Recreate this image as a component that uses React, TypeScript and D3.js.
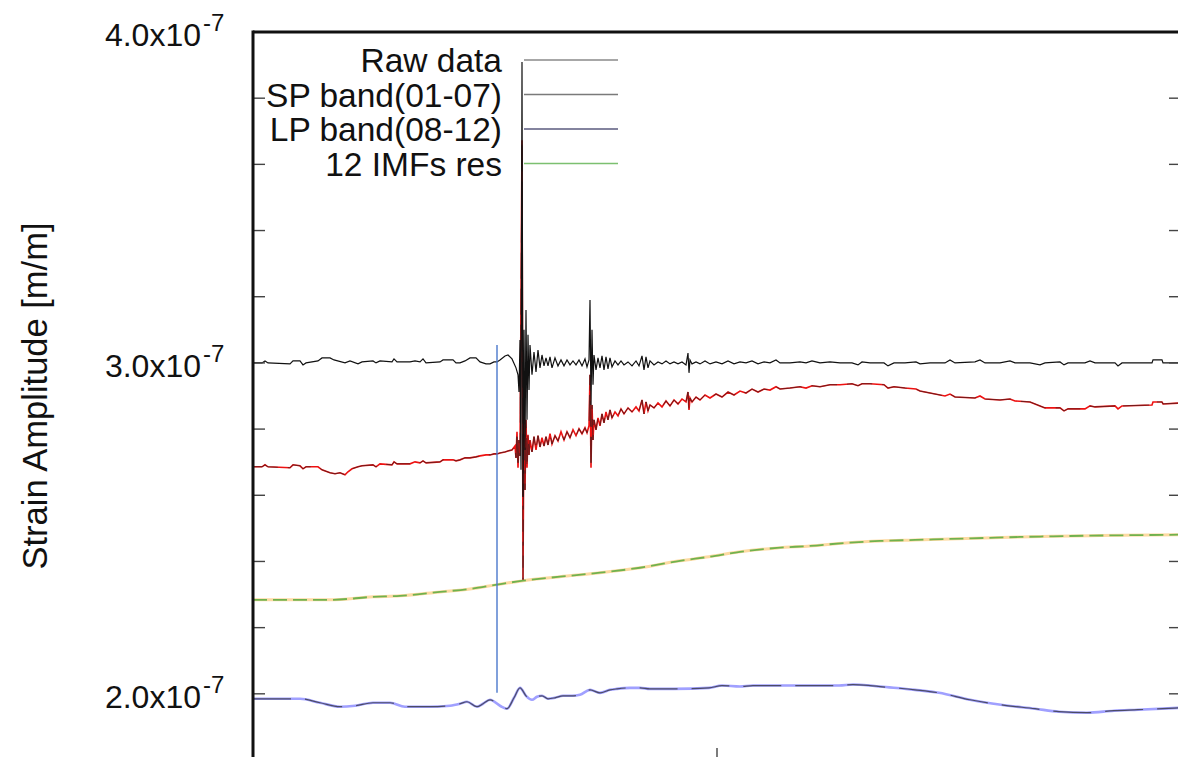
import React from "react";
import * as d3 from "d3";

// time axis (arbitrary sample units) and strain values in units of 1e-7 m/m
const yTickValues = [1.8, 2.0, 2.2, 2.4, 2.6, 2.8, 3.0, 3.2, 3.4, 3.6, 3.8, 4.0];
const yLabelValues = [2.0, 3.0, 4.0];
const xTickValues = [0, 464, 928];
const seriesNames = ["Raw data", "SP band(01-07)", "LP band(08-12)", "12 IMFs res"];
const eventTime = 244;
const eventRange = [2.003, 3.054];

const spBand: [number, number][] = [
  [0,3.000],[9,3.000],[12,3.006],[15,3.000],[37,2.997],[40,3.006],[47,3.006],[50,2.994],[53,3.000],[65,3.006],[69,3.015],[77,3.015],[81,3.009],[92,3.000],[97,3.006],[105,2.997],[109,3.003],[120,3.006],[123,3.000],[127,3.006],[139,3.003],[141,3.012],[144,3.003],[157,3.003],[162,3.006],[167,3.003],[170,3.012],[173,3.000],[187,3.003],[190,3.009],[200,3.009],[203,3.000],[207,3.000],[212,3.006],[217,3.015],[223,3.015],[227,3.003],[233,2.997],[237,2.997],[241,3.003],[244,3.003],[247,3.009],[252,3.021],[255,3.024],[259,3.012],[263,2.985],[265,2.964],[266,2.912],[267,3.069],[268,2.677],[269,3.909],[270,2.595],[271,3.100],[272,2.737],[273,3.160],[274,2.828],[275,3.085],[276,2.918],[277,3.054],[279,2.964],[281,3.033],[283,2.973],[285,3.039],[287,2.985],[289,3.024],[291,2.991],[293,3.015],[295,2.991],[297,3.018],[299,2.985],[302,3.015],[305,2.991],[308,3.009],[311,2.991],[314,3.009],[317,2.994],[320,3.006],[323,2.994],[326,3.009],[329,2.991],[332,3.012],[334,2.988],[336,3.009],[337,3.190],[338,2.873],[339,3.100],[340,2.934],[341,3.024],[343,2.979],[345,3.015],[347,2.985],[349,3.021],[351,2.979],[353,3.018],[355,2.982],[357,3.015],[359,2.988],[362,3.006],[365,2.994],[368,3.006],[371,2.994],[375,3.003],[379,2.991],[383,3.006],[386,2.991],[389,3.021],[391,2.979],[393,3.018],[395,2.985],[397,3.006],[401,2.994],[405,3.003],[409,2.997],[413,3.006],[417,2.997],[421,3.003],[425,2.997],[429,3.003],[433,2.994],[435,3.030],[436,2.970],[437,3.009],[439,2.997],[443,3.003],[447,2.997],[452,3.006],[457,2.997],[463,3.003],[469,2.997],[475,3.006],[481,2.997],[487,3.003],[493,3.000],[499,3.006],[505,2.997],[511,3.003],[517,3.000],[523,3.009],[527,3.000],[537,3.000],[547,3.003],[553,3.000],[559,3.006],[567,3.000],[577,3.003],[587,3.000],[599,3.000],[605,2.994],[609,3.003],[617,3.000],[631,3.000],[635,2.991],[641,3.000],[652,3.000],[663,3.003],[667,2.997],[677,3.000],[692,3.000],[697,3.009],[702,3.000],[722,3.003],[727,3.009],[732,3.000],[747,3.000],[757,3.006],[762,3.000],[777,3.000],[787,2.994],[792,3.000],[807,3.003],[811,2.994],[815,3.000],[832,3.000],[837,3.006],[842,3.000],[862,3.000],[865,2.991],[869,3.000],[899,3.000],[900,3.009],[909,3.009],[910,3.000],[928,3.000]
];

const rawData: [number, number][] = [
  [0,2.686],[9,2.686],[12,2.692],[15,2.686],[37,2.683],[40,2.692],[47,2.689],[50,2.680],[53,2.686],[65,2.686],[69,2.677],[77,2.668],[82,2.665],[87,2.668],[92,2.662],[95,2.671],[99,2.680],[105,2.686],[109,2.689],[120,2.692],[123,2.686],[127,2.695],[139,2.692],[141,2.701],[144,2.695],[157,2.695],[162,2.701],[167,2.698],[170,2.704],[173,2.698],[187,2.701],[190,2.707],[200,2.707],[203,2.704],[207,2.707],[212,2.713],[217,2.713],[223,2.716],[227,2.719],[233,2.722],[237,2.722],[241,2.725],[244,2.725],[247,2.728],[252,2.731],[255,2.734],[259,2.737],[262,2.749],[263,2.713],[264,2.792],[265,2.683],[266,2.767],[267,2.719],[268,3.190],[269,3.673],[270,2.345],[271,2.888],[272,2.616],[273,2.828],[274,2.683],[275,2.783],[276,2.722],[277,2.767],[279,2.731],[281,2.777],[283,2.737],[285,2.780],[287,2.746],[289,2.774],[291,2.749],[293,2.777],[295,2.752],[297,2.786],[299,2.755],[302,2.780],[305,2.764],[308,2.792],[311,2.767],[314,2.792],[317,2.774],[320,2.798],[323,2.780],[326,2.801],[329,2.786],[332,2.804],[334,2.789],[336,2.810],[337,2.964],[338,2.683],[339,2.873],[340,2.767],[341,2.828],[343,2.798],[345,2.834],[347,2.810],[349,2.846],[351,2.819],[353,2.852],[355,2.828],[357,2.858],[359,2.834],[362,2.852],[365,2.840],[368,2.861],[371,2.846],[375,2.864],[379,2.852],[383,2.867],[386,2.855],[389,2.888],[391,2.846],[393,2.882],[395,2.855],[397,2.873],[401,2.864],[405,2.879],[409,2.867],[413,2.885],[417,2.870],[421,2.888],[425,2.876],[429,2.891],[433,2.882],[435,2.912],[436,2.858],[437,2.894],[439,2.882],[443,2.897],[447,2.888],[452,2.903],[457,2.894],[463,2.906],[469,2.897],[475,2.912],[481,2.903],[487,2.915],[493,2.909],[499,2.921],[505,2.912],[511,2.921],[517,2.918],[523,2.928],[527,2.921],[537,2.924],[547,2.928],[553,2.924],[559,2.931],[567,2.928],[577,2.934],[587,2.934],[599,2.937],[605,2.931],[609,2.937],[617,2.937],[631,2.934],[635,2.924],[641,2.928],[652,2.924],[663,2.921],[667,2.915],[677,2.909],[692,2.900],[697,2.906],[702,2.897],[722,2.894],[727,2.900],[732,2.891],[747,2.888],[757,2.891],[762,2.885],[777,2.882],[787,2.870],[792,2.864],[807,2.864],[811,2.855],[815,2.861],[832,2.861],[837,2.870],[842,2.867],[862,2.870],[865,2.861],[869,2.870],[899,2.873],[900,2.882],[909,2.882],[910,2.876],[928,2.879]
];

const lpBand: [number, number][] = [
  [0,1.985],[47,1.985],[67,1.973],[87,1.961],[102,1.964],[120,1.973],[137,1.973],[152,1.961],[177,1.961],[197,1.964],[207,1.970],[214,1.976],[224,1.961],[230,1.970],[237,1.982],[247,1.964],[254,1.955],[261,1.988],[267,2.018],[273,1.994],[279,1.982],[284,1.991],[289,1.994],[295,1.985],[302,1.988],[310,1.994],[319,1.994],[327,1.997],[337,2.012],[347,2.003],[357,2.012],[364,2.015],[377,2.018],[387,2.018],[397,2.015],[421,2.015],[456,2.018],[469,2.025],[487,2.022],[500,2.025],[547,2.025],[586,2.025],[600,2.028],[617,2.025],[627,2.022],[662,2.012],[686,2.003],[717,1.982],[748,1.967],[782,1.955],[806,1.946],[834,1.943],[861,1.949],[885,1.952],[928,1.958]
];

const imfRes: [number, number][] = [
  [0,2.284],[77,2.284],[120,2.293],[147,2.296],[187,2.308],[217,2.317],[244,2.330],[270,2.342],[307,2.354],[347,2.366],[387,2.381],[427,2.402],[456,2.414],[487,2.429],[524,2.441],[557,2.447],[593,2.456],[627,2.462],[662,2.465],[697,2.468],[731,2.471],[767,2.474],[799,2.476],[837,2.478],[868,2.479],[928,2.481]
];

const legendColors = ["#8a8a8a", "#7a7a7a", "#5a5a7e", "#7cc070"];

const FONT = "'Liberation Sans', Arial, Helvetica, sans-serif";

export default function App() {
  const W = 1178, H = 757;
  const x = d3.scaleLinear().domain([0, 928]).range([253, 1181]);
  const y = d3.scaleLinear().domain([1.8, 4.0]).range([760, 32]);
  const lin = d3.line<[number, number]>().x(d => x(d[0])).y(d => y(d[1]));
  const smooth = d3.line<[number, number]>().x(d => x(d[0])).y(d => y(d[1])).curve(d3.curveMonotoneX);

  const left = x(0), right = x(928), top = y(4.0), bottom = y(1.8);

  return (
    <svg width={W} height={H} style={{ position: "absolute", left: 0, top: 0, background: "#fff" }} fontFamily={FONT}>
      <rect x={0} y={0} width={W} height={H} fill="#fff" />
      <defs>
        <clipPath id="plot"><rect x={left} y={top} width={right - left} height={bottom - top} /></clipPath>
      </defs>
      <g clipPath="url(#plot)">
        {/* LP band */}
        <path d={smooth(lpBand) || ""} fill="none" stroke="#a0a0ff" strokeWidth={2.6} />
        <path d={smooth(lpBand) || ""} fill="none" stroke="#4c4c66" strokeWidth={1.2} strokeDasharray="38,14" />
        {/* residual */}
        <path d={smooth(imfRes) || ""} fill="none" stroke="#fddaa2" strokeWidth={3} />
        <path d={smooth(imfRes) || ""} fill="none" stroke="#6fb24e" strokeWidth={1.8} strokeDasharray="14,6" />
        {/* raw data */}
        <path d={lin(rawData) || ""} fill="none" stroke="#ee1111" strokeWidth={1.6} />
        <path d={lin(rawData) || ""} fill="none" stroke="#222" strokeOpacity={0.7} strokeWidth={0.9} strokeDasharray="26,10" />
        {/* SP band */}
        <path d={lin(spBand) || ""} fill="none" stroke="#111" strokeWidth={1.2} />
        {/* event marker */}
        <line x1={x(eventTime)} x2={x(eventTime)} y1={y(eventRange[0])} y2={y(eventRange[1])} stroke="#4a78cc" strokeWidth={1.4} />
      </g>

      {/* legend */}
      {seriesNames.map((name, i) => {
        const ly = 60 + i * 34.5;
        return (
          <g key={name}>
            <text x={502} y={ly + 12} textAnchor="end" fontSize={33.5} fill="#111">{name}</text>
            <line x1={524} x2={618} y1={ly} y2={ly} stroke={legendColors[i]} strokeWidth={1.4} />
          </g>
        );
      })}

      {/* ticks */}
      {yTickValues.map(v => (
        <g key={"t" + v}>
          <line x1={left} x2={left + 12} y1={y(v)} y2={y(v)} stroke="#444" strokeWidth={1.4} />
          <line x1={right - 12} x2={right} y1={y(v)} y2={y(v)} stroke="#444" strokeWidth={1.4} />
        </g>
      ))}
      {xTickValues.map(t => (
        <line key={"x" + t} x1={x(t)} x2={x(t)} y1={bottom} y2={bottom - 12} stroke="#444" strokeWidth={1.4} />
      ))}

      {/* frame */}
      <line x1={left} x2={left} y1={top - 1.5} y2={bottom} stroke="#111" strokeWidth={3} />
      <line x1={left} x2={right} y1={top} y2={top} stroke="#111" strokeWidth={3} />
      <line x1={right} x2={right} y1={top} y2={bottom} stroke="#111" strokeWidth={3} />

      {/* y labels */}
      {yLabelValues.map(v => (
        <g key={"l" + v}>
          <text x={201} y={y(v) + 14} textAnchor="end" fontSize={32} fill="#111">{d3.format(".1f")(v)}x10</text>
          <text x={203} y={y(v) - 1} textAnchor="start" fontSize={24} fill="#111">-7</text>
        </g>
      ))}

      <text transform={`translate(47, 396) rotate(-90)`} textAnchor="middle" fontSize={34.5} fill="#111">Strain Amplitude [m/m]</text>
    </svg>
  );
}
